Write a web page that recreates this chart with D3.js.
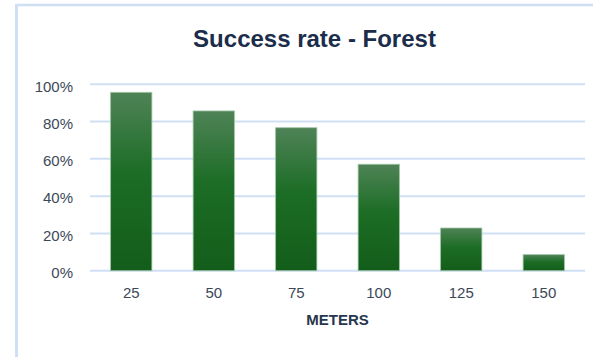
<!DOCTYPE html>
<html>
<head>
<meta charset="utf-8">
<script src="https://cdn.jsdelivr.net/npm/d3@7"></script>
<style>
  html, body { margin: 0; padding: 0; background: #ffffff; }
  svg { display: block; }
</style>
</head>
<body>
<div id="chart"></div>
<script>
// Success rate by distance, forest terrain
const distances = ["25", "50", "75", "100", "125", "150"];
const successRate = [0.957, 0.857, 0.767, 0.571, 0.229, 0.086];
const yTickValues = [0, 0.2, 0.4, 0.6, 0.8, 1.0];

const W = 593, H = 357;
const margin = { left: 90, right: 8, top: 84.3, bottom: 86.3 };

const svg = d3.select("#chart").append("svg")
  .attr("width", W).attr("height", H);

// vertical bar gradient, lighter at the top of every bar
const defs = svg.append("defs");
const grad = defs.append("linearGradient")
  .attr("id", "barFill")
  .attr("x1", 0).attr("y1", 0).attr("x2", 0).attr("y2", 1);
grad.append("stop").attr("offset", "0%").attr("stop-color", "#4f8357");
grad.append("stop").attr("offset", "45%").attr("stop-color", "#1c6d25");
grad.append("stop").attr("offset", "100%").attr("stop-color", "#135d1a");

// frame lines
svg.append("line")
  .attr("x1", 16.5).attr("x2", 16.5).attr("y1", 4).attr("y2", H)
  .attr("stroke", "#cfe0f4").attr("stroke-width", 3);
svg.append("line")
  .attr("x1", 15).attr("x2", W).attr("y1", 5).attr("y2", 5)
  .attr("stroke", "#cfe0f4").attr("stroke-width", 2.5);

const x = d3.scaleBand()
  .domain(distances)
  .range([margin.left, W - margin.right])
  .paddingInner(0.5).paddingOuter(0.25);

const y = d3.scaleLinear()
  .domain([0, 1])
  .range([H - margin.bottom, margin.top]);

// gridlines
svg.append("g")
  .selectAll("line")
  .data(yTickValues)
  .join("line")
  .attr("x1", margin.left).attr("x2", W - margin.right)
  .attr("y1", d => y(d)).attr("y2", d => y(d))
  .attr("stroke", "#cfe0f4").attr("stroke-width", 2);

// y axis labels
const yAxis = d3.axisLeft(y)
  .tickValues(yTickValues)
  .tickFormat(d3.format(".0%"))
  .tickSize(0).tickPadding(17);
const gy = svg.append("g")
  .attr("transform", `translate(${margin.left},0)`)
  .call(yAxis);
gy.select(".domain").remove();
gy.selectAll("text")
  .attr("font-family", "'Liberation Sans', Arial, sans-serif")
  .attr("font-size", 15)
  .attr("fill", "#3c4858")
  .attr("dy", "0.45em");

// bars
svg.append("g")
  .selectAll("rect")
  .data(successRate)
  .join("rect")
  .attr("x", (d, i) => x(distances[i]))
  .attr("width", x.bandwidth())
  .attr("y", d => y(d))
  .attr("height", d => y(0) - y(d))
  .attr("fill", "url(#barFill)")
  .attr("stroke", "#9cc3a0")
  .attr("stroke-width", 0.8);

// x axis labels
const xAxis = d3.axisBottom(x).tickSize(0).tickPadding(17);
const gx = svg.append("g")
  .attr("transform", `translate(0,${y(0)})`)
  .call(xAxis);
gx.select(".domain").remove();
gx.selectAll("text")
  .attr("font-family", "'Liberation Sans', Arial, sans-serif")
  .attr("font-size", 15)
  .attr("fill", "#3c4858");

// axis title
svg.append("text")
  .attr("x", (margin.left + W - margin.right) / 2)
  .attr("y", 325)
  .attr("text-anchor", "middle")
  .attr("font-family", "'Liberation Sans', Arial, sans-serif")
  .attr("font-weight", "bold")
  .attr("font-size", 15)
  .attr("fill", "#26364d")
  .text("METERS");

// chart title
svg.append("text")
  .attr("x", 314.5)
  .attr("y", 47)
  .attr("text-anchor", "middle")
  .attr("font-family", "'Liberation Sans', Arial, sans-serif")
  .attr("font-weight", "bold")
  .attr("font-size", 24)
  .attr("fill", "#1b2d4a")
  .text("Success rate - Forest");
</script>
</body>
</html>
